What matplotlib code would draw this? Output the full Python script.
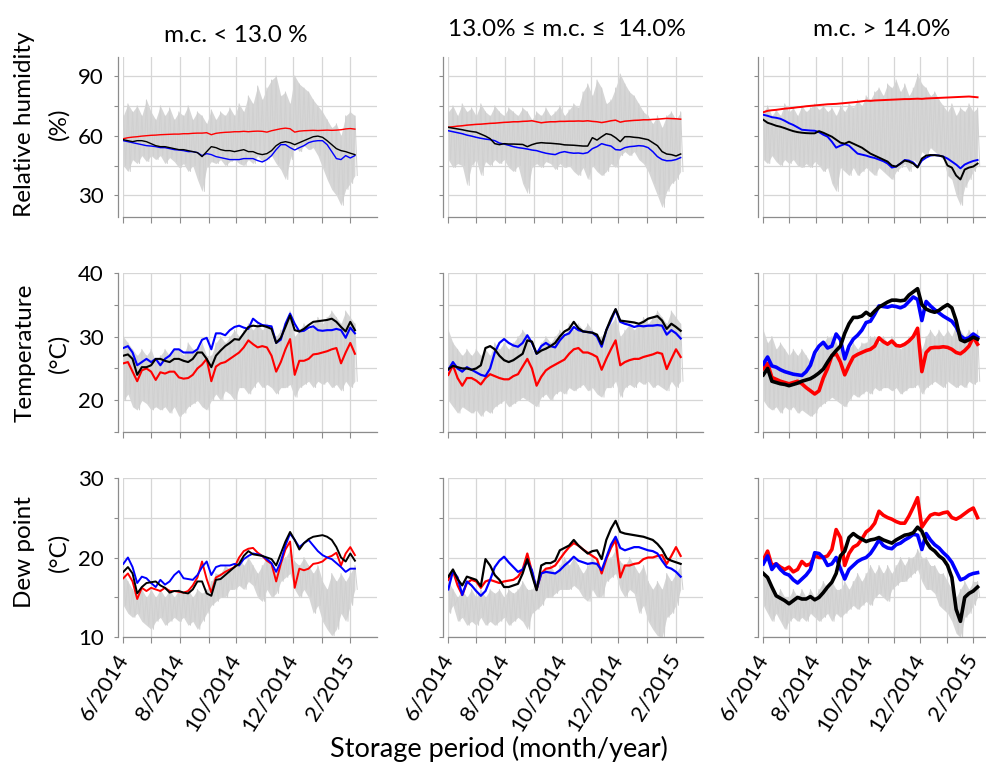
import numpy as np
import pandas as pd
import matplotlib
matplotlib.use('Agg')
import matplotlib.pyplot as plt

plt.rcParams['font.family'] = ['Lato', 'DejaVu Sans']

# sampling every 5 days from 1 June 2014
days = np.arange(0, 251, 5)

col_titles = ['m.c. < 13.0 %', '13.0% \u2264 m.c. \u2264  14.0%', 'm.c. > 14.0%']
row_labels = ['Relative humidity\n(%)', 'Temperature\n(\u00b0C)', 'Dew point\n(\u00b0C)']
tick_months = ['6/2014', '', '8/2014', '', '10/2014', '', '12/2014', '', '2/2015']

# ---------- relative humidity ----------
rh_amb_hi_1 = [70, 76, 72, 75, 70, 78, 72, 68, 75, 70, 74, 68, 72, 70, 75, 68, 72, 70, 66, 73,
               68, 72, 70, 74, 70, 76, 72, 80, 76, 85, 78, 84, 88, 90, 80, 82, 76, 90, 86, 84,
               82, 78, 75, 72, 68, 64, 66, 60, 70, 72, 70]
rh_amb_lo_1 = [45, 42, 48, 46, 50, 47, 50, 48, 50, 46, 49, 47, 44, 46, 42, 45, 38, 32, 44, 47,
               46, 48, 45, 47, 48, 46, 45, 48, 46, 50, 47, 48, 50, 46, 43, 38, 48, 55, 52, 55,
               53, 54, 50, 44, 38, 33, 30, 25, 33, 36, 40]
rh_red_1 = [58.5, 59, 59.3, 59.5, 59.8, 60, 60.2, 60.3, 60.5, 60.6,
            60.7, 60.8, 60.8, 61, 61, 61.2, 61.3, 61.3, 61.5, 60.5,
            61.2, 61.5, 61.7, 61.8, 62, 62, 62.2, 62, 62.2, 62.3,
            62.2, 61.8, 62.5, 63, 63.5, 63.8, 63.5, 61.8, 62.3, 62.5,
            62.6, 62.7, 62.6, 62.7, 62.8, 62.7, 62.8, 63, 63.4, 63.6, 63.3]
rh_black_1 = [58, 57.5, 57, 57.5, 57.5, 57, 56, 55, 54.5, 54.5,
              54, 53.5, 53, 53, 52.5, 52, 51.5, 49.5, 52, 54.5,
              54, 53, 52.5, 52.5, 52, 52.5, 53, 52, 52, 51,
              50.5, 51, 52.5, 55, 56.5, 57, 56.5, 55.5, 56.5, 57.5,
              58.5, 59.5, 59.8, 59.2, 57.5, 55.5, 53.5, 52.5, 52, 51.2, 50.5]
rh_blue_1 = [57.5, 57, 56.5, 56, 55.5, 55, 54.8, 54.5, 54, 54,
             53.5, 53, 52.8, 52.5, 52, 52, 51.5, 50, 51, 50.5,
             49.5, 49, 48.5, 48, 48, 48, 48.5, 48.5, 48.5, 47.5,
             46.8, 48, 50, 53, 55.5, 55.5, 54, 52.8, 54, 55,
             56.5, 57.2, 57.5, 57.5, 55.5, 52, 48.5, 48, 50, 48.8, 50]

rh_amb_hi_2 = [72, 75, 70, 76, 72, 74, 70, 76, 72, 70, 75, 72, 70, 74, 72, 70, 74, 72, 68, 72,
               70, 74, 70, 72, 75, 70, 73, 76, 74, 82, 86, 80, 88, 84, 76, 78, 84, 91, 86, 82,
               80, 76, 72, 70, 66, 70, 64, 70, 72, 68, 72]
rh_amb_lo_2 = [48, 44, 46, 45, 35, 45, 48, 40, 47, 45, 48, 46, 48, 44, 42, 45, 36, 31, 44, 46,
               44, 47, 46, 43, 46, 44, 45, 42, 40, 44, 38, 45, 42, 40, 42, 46, 44, 50, 52, 50,
               52, 48, 46, 42, 36, 30, 24, 32, 36, 38, 42]
rh_red_2 = [64.3, 64.5, 64.8, 65, 65.3, 65.5, 65.7, 65.8, 66, 66.2,
            66.3, 66.5, 66.7, 66.8, 67, 67, 67.2, 67.3, 67.5, 67,
            66.5, 66.8, 67, 67, 67.2, 67.2, 67.3, 67.3, 67.4, 67.3,
            67.5, 67.2, 67, 66.6, 67, 67.5, 67.8, 66.8, 67.3, 67.5,
            67.7, 67.8, 68, 68, 68.2, 68.3, 68.5, 68.7, 68.6, 68.5, 68.3]
rh_black_2 = [64.2, 63.8, 63.4, 63, 62.5, 62.1, 61.8, 60.8, 59.8, 58.5,
              56, 55.5, 56, 55.8, 55.8, 55.7, 55.6, 54.5, 55.5, 56.2,
              56.5, 56.3, 56.2, 56, 55.8, 55.4, 55.3, 55.2, 55, 54.8,
              54.8, 59, 57.8, 59.5, 61, 60.5, 59, 57, 59.5, 59.5,
              59.2, 59, 58.5, 58, 56.5, 55, 52, 50.8, 50.5, 49.8, 50.8]
rh_blue_2 = [62.5, 62, 61.5, 61, 60.3, 59.8, 59.2, 58.7, 58.3, 58,
             57.5, 56.3, 55.8, 55.2, 54.5, 54, 53.7, 53.3, 52.8, 52.5,
             51.8, 51.2, 50.8, 50.5, 51.5, 52, 51.5, 51.2, 51.3, 51,
             51.5, 53.5, 54.5, 56, 55.3, 54.8, 53, 52.8, 54, 54.5,
             54.7, 55, 54.8, 54, 52, 49.5, 48, 47.4, 47.5, 48, 49]

rh_amb_hi_3 = [72, 75, 70, 73, 70, 76, 72, 74, 70, 75, 72, 74, 76, 73, 75, 72, 74, 70, 75, 72,
               76, 74, 78, 75, 80, 78, 82, 84, 80, 86, 84, 88, 82, 86, 80, 84, 91, 86, 84, 80,
               82, 78, 75, 72, 76, 70, 74, 72, 76, 72, 74]
rh_amb_lo_3 = [48, 46, 50, 47, 45, 48, 46, 48, 45, 44, 46, 44, 47, 45, 42, 44, 36, 32, 44, 42,
               40, 44, 40, 42, 44, 42, 40, 44, 42, 40, 38, 42, 44, 46, 42, 48, 46, 52, 50, 54,
               52, 50, 48, 40, 38, 30, 25, 34, 38, 42, 45]
rh_red_3 = [71.8, 72.5, 72.8, 73, 73.3, 73.6, 73.8, 74, 74.3, 74.5,
            74.8, 75, 75.2, 75.4, 75.6, 75.8, 75.9, 76, 76.2, 76.4,
            76.6, 76.8, 77, 77.3, 77.6, 77.5, 77.7, 77.8, 77.9, 78,
            78.1, 78.2, 78.3, 78.4, 78.4, 78.5, 78.6, 78.5, 78.7, 78.8,
            78.9, 79, 79.1, 79.2, 79.3, 79.4, 79.5, 79.6, 79.7, 79.5, 79.3]
rh_black_3 = [68, 66.5, 65.8, 65, 64.5, 63.8, 63, 62.3, 61.8, 61.5,
              61.3, 61.2, 61.2, 62.3, 61.5, 60.5, 59.5, 58, 56.5, 56,
              57, 56, 55, 54, 52.5, 51, 50, 49, 48, 47,
              45, 44.5, 46, 47.5, 47, 46, 44, 48.5, 50, 50.3,
              50.2, 50, 49.5, 45, 44, 40, 38, 43, 44, 44.5, 46]
rh_blue_3 = [70.5, 70, 69.3, 69, 68.5, 67.5, 66.3, 65.4, 64.2, 63,
             62.8, 62.6, 62.5, 61.8, 60.5, 59.5, 57, 54, 55, 55.8,
             55, 53, 51, 50.5, 50, 49.3, 48.8, 48, 47.2, 46,
             44, 44.5, 46, 47.8, 47.5, 46.5, 44.3, 47.5, 49, 50,
             50.3, 50, 49.5, 48.5, 47, 45.5, 43.6, 45.5, 46.5, 47.3, 47.8]

# ---------- temperature ----------
t_amb_hi_1 = [30, 29, 28, 27, 28, 27, 28, 26, 27, 28, 27, 28, 28, 27, 29, 28, 28, 29, 27, 27,
              29, 30, 29, 30, 31, 30, 31, 32, 31, 32, 31, 32, 31, 30, 31, 32, 34, 30, 31, 32,
              31, 32, 33, 32, 33, 34, 33, 32, 34, 33, 32]
t_amb_lo_1 = [20, 21, 19, 18.5, 20, 19.5, 18.5, 19, 18.5, 19, 18, 19, 17.5, 18, 19, 19.5, 20, 19, 18.5, 20,
              21, 20, 21.5, 21, 20, 22, 22, 21, 22, 23, 22, 22.5, 22, 21, 22, 22, 22.5, 20.5, 22, 22.5,
              23, 22, 23, 22.5, 23, 22, 22.5, 21.5, 23, 22, 23]
t_red_1 = [25.8, 26, 24.5, 23, 24.7, 25, 24.5, 23.2, 24.4, 24.2,
           24.5, 24.5, 23.6, 23.4, 23.5, 24, 25, 25.6, 26.5, 23,
           25.3, 25.8, 26, 26.5, 27, 27.5, 28.3, 29.4, 28.8, 28.3,
           28.5, 28.3, 27, 24.5, 26, 28, 29.6, 24, 26.2, 26.2,
           26.5, 27.2, 27.3, 27.5, 27.7, 28, 28.2, 25.8, 27.5, 29, 27.3]
t_black_1 = [27, 27.2, 26.5, 24, 25.2, 25.2, 25.5, 26.5, 26.5, 26.2,
             26, 26.5, 26.5, 26.2, 26, 26.5, 27.5, 27.5, 26.5, 25.2,
             27, 27.8, 28.5, 29, 29.6, 29.5, 30.5, 31.5, 31.7, 31.6,
             31.7, 31.5, 31.2, 29, 29.8, 31.5, 33.3, 31, 30.8, 31.2,
             31.8, 32.3, 32.4, 32.5, 32.6, 32.8, 32.3, 31.5, 30.8, 32.3, 31]
t_blue_1 = [28.2, 28.5, 27.5, 25.5, 26, 26.5, 26, 26.5, 25.5, 26.5,
            27, 28, 28, 27.5, 27.5, 27.5, 28, 29.5, 29.8, 28,
            30.5, 30.5, 30.2, 31, 31.5, 31.7, 31.4, 31.2, 32.8, 32.2,
            31.8, 31.7, 31.6, 29, 29.5, 32, 33.6, 32, 30.8, 30.9,
            31.4, 31.6, 31, 30.9, 31, 31, 31.2, 31, 29.8, 31.4, 30.5]

t_amb_hi_2 = [31, 29, 28, 27, 28, 27, 28, 27, 28, 27, 29, 28, 29, 28, 29, 30, 31, 30, 28, 27,
              29, 30, 29, 30, 31, 30, 32, 31, 32, 31, 32, 31, 30, 30, 31, 32, 33, 30, 31, 32,
              31, 32, 33, 32, 33, 34, 33, 32, 34, 33, 32]
t_amb_lo_2 = [20, 19, 18, 19, 18.5, 18, 18.5, 17.5, 18.5, 18, 19, 19.5, 20, 19, 19.5, 20, 20.5, 20, 19.5, 19,
              20.5, 21, 20, 21, 21.5, 21, 22, 21.5, 22, 22.5, 21.5, 22, 21, 20.5, 22, 22, 23, 20.5, 22, 22.5,
              22, 23, 22.5, 23, 22, 22.5, 22, 21.5, 23, 22, 23]
t_red_2 = [24, 25.5, 23.5, 22.3, 23.5, 23.5, 23.1, 22.5, 23.5, 24.1,
           23.8, 23.5, 23.3, 23.3, 23.8, 24.1, 25.3, 26.5, 25, 22.3,
           23.7, 24.7, 25.2, 25.6, 26, 26.4, 27.3, 28, 28.2, 27.5,
           27.5, 27.2, 26.8, 24.8, 26.5, 28, 29.4, 25.5, 26, 26.3,
           26.5, 26.5, 26.8, 27, 27.2, 27.5, 27.3, 24.9, 26.5, 28, 26.8]
t_black_2 = [24.9, 25.4, 25.2, 25, 25, 24.8, 25, 25.5, 28.2, 28.5,
             28, 27, 26.3, 26, 26.3, 26.8, 27.3, 29.4, 29.2, 27.3,
             27.8, 28.1, 28.5, 29, 30, 30.8, 31.2, 32.3, 31.3, 30.8,
             30.7, 30.6, 30.3, 28.8, 31, 32.8, 34.3, 32.5, 32.4, 32.3,
             32.2, 32, 32.3, 32.8, 33, 33.2, 32.5, 31.2, 32, 31.5, 30.9]
t_blue_2 = [24.8, 26, 25, 24.5, 25.2, 24.8, 24.4, 24, 23.8, 25,
            27.5, 29, 29.6, 29, 28.6, 28.4, 29, 30.2, 29, 27.3,
            28.5, 29, 28.5, 28.3, 29.4, 30.2, 30.5, 31.5, 31, 30.8,
            30.7, 30.6, 30, 28.4, 31, 32.5, 34.2, 32.3, 32, 31.8,
            31.5, 31.7, 31.6, 31.7, 31.7, 31.8, 31.7, 30.3, 31, 30.5, 29.7]

t_amb_hi_3 = [31, 29, 30, 28, 29, 28, 27, 28, 27, 28, 27, 26, 27, 28, 29, 30, 30, 29, 28, 27,
              28, 29, 28, 29, 29, 30, 30, 29, 30, 29, 30, 29, 28, 29, 30, 30, 31, 28, 30, 31,
              30, 31, 30, 31, 30, 32, 31, 30, 31, 30, 31]
t_amb_lo_3 = [20, 19, 18.5, 19, 18, 19, 18.5, 19, 18, 18.5, 18, 17.5, 18, 19, 19.5, 20, 20.5, 20, 19.5, 19,
              20, 21, 20.5, 21, 21.5, 21, 22, 21.5, 22, 22, 21.5, 22, 21, 21.5, 22, 22, 22.5, 21, 22, 22.5,
              23, 22.5, 22, 23, 22.5, 22, 22.5, 22, 23, 22.5, 23]
t_red_3 = [25, 25.8, 23.6, 23.3, 23, 22.8, 22.6, 22.8, 23, 22.6,
           22, 21.5, 21, 21.5, 23.5, 25, 27, 27.3, 26, 24,
           25.5, 26.8, 27.2, 27.5, 27.8, 28, 28.5, 29.8, 29.2, 28.8,
           29.3, 28.6, 28.5, 28.8, 29.3, 30, 31.3, 24.5, 27.5, 28.2,
           28.3, 28.3, 28.4, 28.3, 28, 27.5, 27.3, 27.8, 28.5, 29.9, 28.8]
t_black_3 = [24, 25, 23, 22.8, 22.6, 22.5, 22.3, 22.5, 22.7, 23,
             23.2, 23.4, 23.8, 24.3, 24.9, 26, 27, 27.8, 28.5, 30.5,
             32, 33, 33, 33.2, 33.8, 33.3, 34, 34.6, 35, 35.4,
             35.7, 35.7, 35.6, 35.7, 36.5, 37, 37.5, 35, 34.3, 34,
             33.8, 34.1, 34.6, 35, 34.5, 32.5, 29.5, 29.2, 29.5, 29.9, 29.6]
t_blue_3 = [25.7, 26.8, 25.4, 25.2, 24.8, 24.5, 24.3, 24.1, 24, 23.9,
            24.5, 25.5, 27.5, 28.5, 29.1, 28.2, 28.5, 30.4, 29.5, 26.5,
            28.5, 29.6, 30.2, 31, 32.2, 32.4, 33.5, 34.8, 34.7, 34.6,
            34.8, 34.7, 34.5, 34.8, 35.5, 36.2, 35.8, 32.5, 35.5, 34.8,
            34.2, 33.7, 33.2, 32.8, 32.4, 31.5, 30.1, 29.6, 29.8, 30.4, 29.9]

# ---------- dew point ----------
d_amb_hi_1 = [18, 17, 16, 15, 16, 15, 16, 15, 16, 15, 16, 15, 16, 15.5, 16, 15, 16, 15.5, 16, 17,
              18, 18, 19, 18.5, 19, 20, 19, 20, 19, 18, 19, 20, 19, 18, 20, 20, 21, 19.5, 19, 20,
              19, 18, 19, 17, 16, 18, 17, 18, 17, 18, 19]
d_amb_lo_1 = [14, 13, 12.5, 13, 12, 11.5, 11, 12, 12.5, 11.5, 12, 12.5, 12, 12.5, 11.5, 12, 11, 12, 13, 14,
              14.5, 15, 15, 16, 16, 16.5, 16, 17, 16.5, 15, 14.5, 16, 15, 15.5, 17, 17.5, 18, 16, 15, 16,
              15, 13, 14, 12, 11, 10.2, 11, 13, 12, 14, 16]
d_red_1 = [17.4, 18, 17, 14.8, 16.2, 15.8, 16.2, 16, 15.8, 16.2,
           15.8, 15.8, 15.7, 15.6, 15.8, 16.5, 17.5, 19.5, 17.3, 15.6,
           17.5, 17.8, 18.2, 18.5, 18.8, 20, 20.8, 21.1, 21.2, 20.6,
           20.2, 19.6, 19.2, 17, 19.2, 21, 22, 16.2, 18.6, 18.4,
           18.6, 19.2, 19.3, 19.5, 20, 20.2, 20.6, 19, 20.5, 21.3, 20.3]
d_black_1 = [18.2, 18.8, 18, 15.5, 16.3, 16.8, 16.9, 17, 16.5, 16.2,
             15.6, 15.8, 15.8, 15.6, 15.5, 16, 17, 17, 15.5, 15.2,
             17.2, 17.3, 17.8, 18.3, 18.8, 19.2, 20.2, 20.8, 20.4, 20.3,
             20.2, 20, 19.8, 19, 20.5, 22, 23.2, 22.2, 21, 21.8,
             22.3, 22.6, 22.7, 22.8, 22.6, 22.2, 21.3, 20, 19.5, 20.5, 19.6]
d_blue_1 = [19.2, 20, 18.8, 16.8, 17.6, 17.4, 16.8, 16.3, 17.2, 16.6,
            17, 17.8, 18.3, 17.4, 17.3, 17.2, 17.8, 18.8, 19.5, 17.8,
            18.8, 19, 19, 19, 19.2, 19, 19.8, 20.2, 20.5, 20.4,
            20.2, 19.8, 19.3, 18.2, 19.5, 21.5, 23, 22.2, 21.3, 21.8,
            22.2, 21.5, 20.8, 20.3, 20, 19.8, 19.3, 18.8, 18.2, 18.6, 18.6]

d_amb_hi_2 = [17, 16, 15, 16, 15, 16, 15, 16, 15, 16, 15.5, 16, 15, 16, 15.5, 16, 17, 16, 16, 17,
              18, 18.5, 19, 18, 19, 20, 19, 20, 19, 18, 19, 20, 19, 18, 20, 20, 21, 19.5, 19, 20,
              19, 18, 19, 17, 16, 17, 16, 18, 17, 18, 19]
d_amb_lo_2 = [13, 14, 12, 12.5, 11.5, 12, 11.5, 12.5, 11.5, 12, 11.5, 12, 12.5, 11.5, 12, 12.5, 12, 11, 13, 13.5,
              14, 15, 15, 15.5, 16, 16, 16, 16.5, 16, 15, 14.5, 16, 15, 15, 17, 17.5, 18, 16, 15, 16,
              15.5, 13, 14, 12, 11, 10.2, 10, 12.5, 13, 14, 16]
d_red_2 = [17.2, 18.3, 16.5, 15.3, 16.8, 17.2, 17, 16.2, 17, 17.2,
           17, 16.8, 17, 17.1, 17.2, 17.6, 18.5, 20.5, 18.2, 16,
           18, 18.6, 18.7, 19, 19.8, 20.6, 21.3, 21.8, 21.5, 21,
           20.6, 20.2, 19.8, 18, 19.8, 21.2, 22.2, 17.5, 19, 19,
           19.2, 19.3, 19.8, 20, 20, 20.2, 20.3, 19.2, 20.2, 21.3, 20.2]
d_black_2 = [17.6, 18.5, 17.3, 16.5, 17.6, 17.4, 17.2, 16.4, 19.8, 19,
             17.8, 17.2, 16.3, 16.3, 16.5, 16.7, 18, 19.8, 17.8, 15.9,
             19, 19.3, 19.3, 19.6, 20.9, 21.2, 21.5, 22.2, 21.5, 21,
             20.5, 20.8, 20.9, 19.8, 22.2, 23.6, 24.6, 23.2, 23, 22.9,
             22.8, 22.7, 22.6, 22.4, 22.2, 21.7, 21, 19.9, 19.6, 19.4, 19.2]
d_blue_2 = [16, 18.3, 17.5, 15.3, 17, 16.5, 15.8, 15.2, 15.8, 17.2,
            18.8, 19.6, 20.1, 19.4, 18.8, 18.2, 18.5, 19.5, 18.4, 16,
            18, 18.2, 18.1, 18, 18.4, 19, 19.5, 20.1, 19.6, 19.4,
            19.2, 19.3, 19.2, 18.4, 20, 21.6, 22.6, 21.2, 20.9, 21.1,
            21.3, 21.3, 21.1, 20.9, 20.8, 20.5, 19.6, 18.8, 18.6, 18.2, 17.6]

d_amb_hi_3 = [18, 17, 16, 15, 16, 15, 15, 16, 15, 16, 15, 16, 15, 16, 17, 16, 17, 16, 16, 17,
              16, 17, 18, 17, 18, 19, 18, 19, 18, 19, 18, 19, 20, 19, 20, 20, 21, 20, 20, 19,
              19, 18, 18, 17, 16, 15, 16, 17, 16, 17, 17]
d_amb_lo_3 = [14, 13, 12, 13, 12, 11, 12, 12.5, 12, 12.5, 12, 13, 12.5, 12, 12.5, 13, 12, 13, 12.5, 13,
              13.5, 14, 13.5, 14, 14.5, 14, 15, 15.5, 15, 14.5, 16, 16.5, 17, 17, 17.5, 18, 18.5, 17, 16, 16,
              15.5, 14, 13.5, 13, 12, 10.5, 10, 12.5, 13, 14, 15]
d_red_3 = [19.7, 20.8, 19, 19.2, 18.8, 18.5, 18.8, 18.2, 18.5, 19.5,
           19, 19.2, 20.2, 20, 20, 20.2, 21, 23.5, 22.5, 19,
           20.5, 21.3, 21.6, 22.3, 23.2, 23.6, 24.3, 25.8, 25.3, 25,
           24.8, 24.5, 24.3, 24.3, 25.2, 26.3, 27.5, 23.8, 24.6, 25.3,
           25.5, 25.4, 25.6, 25.7, 25, 24.8, 25.1, 25.5, 25.9, 26.2, 25]
d_black_3 = [18, 17.5, 16.3, 15.2, 14.9, 14.6, 14.2, 14.6, 15, 14.8,
             14.8, 15.1, 14.7, 15, 15.6, 16.3, 16.9, 18, 20.2, 20.8,
             22.5, 23, 22.6, 22.3, 22, 22.2, 22.3, 22.5, 22.2, 22,
             21.8, 22.2, 22.5, 22.8, 22.9, 23.1, 23.8, 23.3, 22, 21.2,
             20.8, 20.2, 19.8, 19, 17.5, 13.5, 12, 15, 15.5, 15.8, 16.3]
d_blue_3 = [19.2, 20.2, 18.5, 19.2, 18.5, 18, 17.8, 17.2, 16.8, 17.3,
            17.8, 18.5, 20.6, 20.5, 20, 19, 19.2, 20, 18.6, 17.3,
            18.5, 19, 19.5, 19.8, 20, 20.5, 21.3, 22.2, 21.5, 21.2,
            21.1, 21.6, 21.8, 22.2, 22.5, 22.9, 22.8, 21, 23, 22.2,
            21.6, 21.2, 20.6, 20.1, 19.4, 18.3, 17.2, 17.4, 17.8, 18, 18.1]

panels = [
    [(rh_amb_hi_1, rh_amb_lo_1, rh_red_1, rh_blue_1, rh_black_1),
     (rh_amb_hi_2, rh_amb_lo_2, rh_red_2, rh_blue_2, rh_black_2),
     (rh_amb_hi_3, rh_amb_lo_3, rh_red_3, rh_blue_3, rh_black_3)],
    [(t_amb_hi_1, t_amb_lo_1, t_red_1, t_blue_1, t_black_1),
     (t_amb_hi_2, t_amb_lo_2, t_red_2, t_blue_2, t_black_2),
     (t_amb_hi_3, t_amb_lo_3, t_red_3, t_blue_3, t_black_3)],
    [(d_amb_hi_1, d_amb_lo_1, d_red_1, d_blue_1, d_black_1),
     (d_amb_hi_2, d_amb_lo_2, d_red_2, d_blue_2, d_black_2),
     (d_amb_hi_3, d_amb_lo_3, d_red_3, d_blue_3, d_black_3)],
]

# layout in pixels
W, H = 986, 764
col_px = [(123.3, 376.7), (448.3, 702.5), (763.3, 997.7)]
row_px = [(56.7, 216.7), (272.7, 432.3), (477.7, 637.3)]
ylims = [(19.3, 99.7), (15, 40), (10, 30)]
yticks = [[30, 45, 60, 75, 90], [15, 20, 25, 30, 35, 40], [10, 15, 20, 25, 30]]
ylabeled = [[30, 60, 90], [20, 30, 40], [10, 20, 30]]
lws = [[1.0, 1.1, 1.4], [1.5, 1.6, 2.6], [1.4, 1.6, 2.6]]

start = pd.Timestamp('2014-06-01')
month_days = [(m - start).days for m in pd.date_range('2014-06-01', '2015-02-01', freq='MS')]

fig = plt.figure(figsize=(W / 100, H / 100), dpi=100)

zig_x = np.column_stack([days, days + 2.5]).ravel()

for r in range(3):
    for c in range(3):
        x0, x1 = col_px[c]
        y0, y1 = row_px[r]
        ax = fig.add_axes([x0 / W, 1 - y1 / H, (x1 - x0) / W, (y1 - y0) / H])
        hi, lo, red, blue, black = panels[r][c]
        # ambient band
        ax.fill_between(days, lo, hi, color='#d6d6d6', lw=0)
        ax.plot(zig_x, np.column_stack([hi, lo]).ravel(), color='#d0d0d0', lw=0.7)
        lw = lws[r][c]
        ax.plot(days, red, color='#ff0000', lw=lw)
        ax.plot(days, blue, color='#0000ff', lw=lw)
        ax.plot(days, black, color='#000000', lw=lw)

        ax.set_xlim(0, 273.5)
        ax.set_ylim(*ylims[r])
        ax.set_xticks(month_days)
        ax.set_yticks(yticks[r])
        if c == 0:
            ax.set_yticklabels([str(v) if v in ylabeled[r] else '' for v in yticks[r]])
        else:
            ax.set_yticklabels([])
        if r == 2:
            ax.set_xticklabels(tick_months)
            plt.setp(ax.get_xticklabels(), rotation=58, ha='right', va='center',
                     rotation_mode='anchor', fontsize=16)
        else:
            ax.set_xticklabels([])

        ax.grid(True, color='#d6d6d6', lw=0.9)
        ax.set_axisbelow(True)
        for s in ['top', 'right']:
            ax.spines[s].set_visible(False)
        for s in ['left', 'bottom']:
            ax.spines[s].set_color('#8c8c8c')
            ax.spines[s].set_linewidth(0.9)
        ax.spines['left'].set_position(('outward', 4))
        ax.tick_params(axis='y', colors='#8c8c8c', length=3, width=0.8,
                       labelcolor='black', labelsize=16, pad=7)
        ax.tick_params(axis='x', colors='#8c8c8c', length=4, width=0.8,
                       labelcolor='black', pad=9)

# column titles
title_pos = [(236, 41.5), (567, 35.5), (882, 35.5)]
for (tx, ty), t in zip(title_pos, col_titles):
    fig.text(tx / W, 1 - ty / H, t, ha='center', va='baseline', fontsize=17.5)

# row labels
label_pos = [(42, 124), (42, 353), (42, 552)]
for (lx, ly), t in zip(label_pos, row_labels):
    fig.text(lx / W, 1 - ly / H, t, ha='center', va='center', rotation=90,
             fontsize=17.5, linespacing=1.75, multialignment='center')

fig.text(499 / W, 1 - 749 / H, 'Storage period (month/year)', ha='center', va='center', fontsize=19.5)

fig.savefig('out.png', dpi=100)
